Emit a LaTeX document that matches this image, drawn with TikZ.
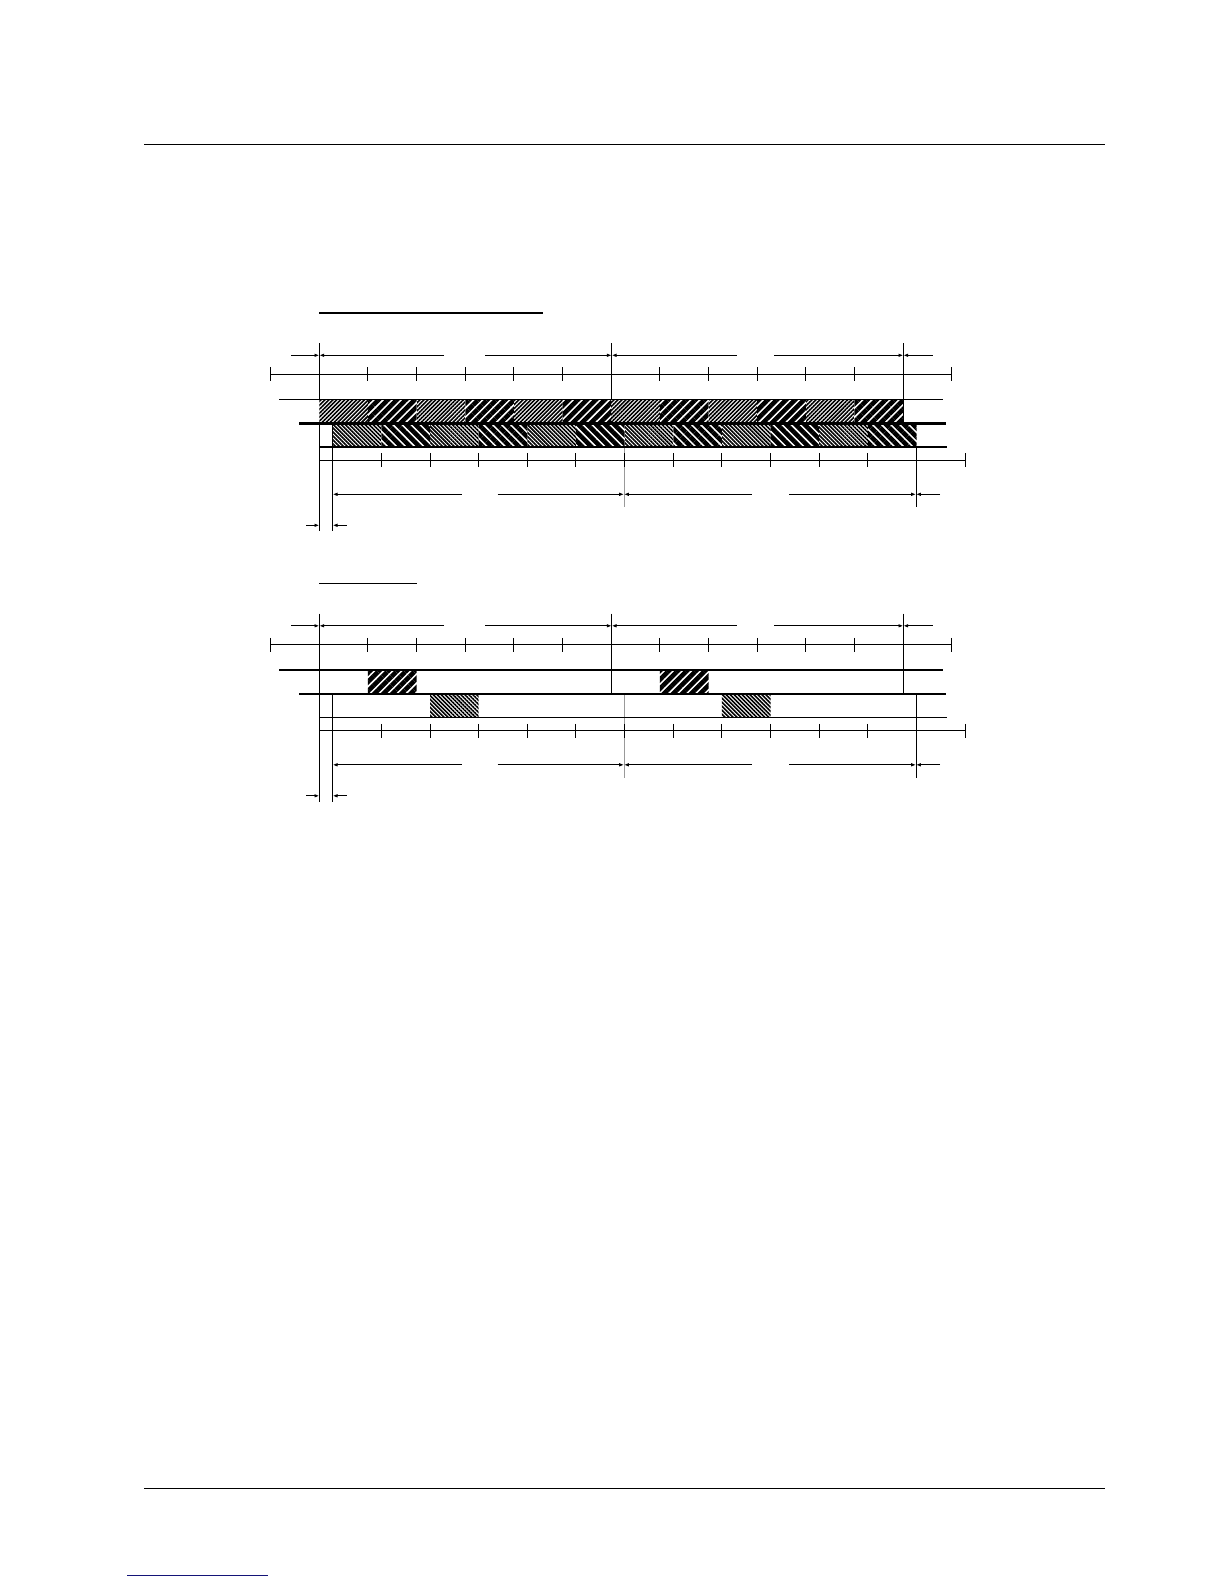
\documentclass[tikz,border=0pt]{standalone}
\usetikzlibrary{arrows.meta, patterns.meta}

\tikzset{
  pagerule/.style = {line width=0.5pt},
  linkrule/.style = {line width=0.5pt, draw=linkblue},
  framerule/.style = {line width=0.5pt},
  heavyrule/.style = {line width=1.3pt},
  guiderule/.style = {line width=0.5pt, draw=black!40},
  dimarrow/.style = {line width=0.5pt, -{Latex[length=2.4pt, width=1.8pt]}},
  finehatchA/.style = {preaction={fill=white}, pattern={Lines[angle=45, distance=1.4pt, line width=0.8pt]}},
  boldhatchA/.style = {preaction={fill=white}, pattern={Lines[angle=45, distance=3.2pt, line width=2.3pt]}},
  finehatchB/.style = {preaction={fill=white}, pattern={Lines[angle=-45, distance=1.4pt, line width=0.8pt]}},
  boldhatchB/.style = {preaction={fill=white}, pattern={Lines[angle=-45, distance=3.2pt, line width=2.3pt]}}
}
\definecolor{linkblue}{RGB}{20,20,120}

% common frame of one timing chart
\newcommand{\slotframe}{%
  \coordinate (ua) at (319.3,355.3);
  \coordinate (ub) at (611.7,355.3);
  \coordinate (uc) at (903.3,355.3);
  \coordinate (la) at (332.7,494.3);
  \coordinate (lb) at (624,494.3);
  \coordinate (lc) at (916,494.3);
  \coordinate (sa) at (319.3,525.3);
  \coordinate (sb) at (332.7,525.3);
  % verticals
  \draw [framerule] (319.3,343) -- (319.3,531);
  \draw [framerule] (332.7,423.3) -- (332.7,531);
  \draw [framerule] (611.7,343) -- (611.7,423.3);
  \draw [framerule] (903.3,343) -- (903.3,423.3);
  \draw [guiderule] (624,423.3) -- (624,507);
  \draw [framerule] (916,423.3) -- (916,507);
  % dimension arrows
  \draw [dimarrow] (291,355.3) -- (ua);
  \draw [dimarrow] (444,355.3) -- (ua);
  \draw [dimarrow] (485,355.3) -- (ub);
  \draw [dimarrow] (736.7,355.3) -- (ub);
  \draw [dimarrow] (774,355.3) -- (uc);
  \draw [dimarrow] (932.7,355.3) -- (uc);
  \draw [dimarrow] (461.7,494.3) -- (la);
  \draw [dimarrow] (497.7,494.3) -- (lb);
  \draw [dimarrow] (751.7,494.3) -- (lb);
  \draw [dimarrow] (789,494.3) -- (lc);
  \draw [dimarrow] (940,494.3) -- (lc);
  \draw [dimarrow] (306,525.3) -- (sa);
  \draw [dimarrow] (346.7,525.3) -- (sb);
  % time axes
  \draw [framerule] (270.7,374.3) -- ({319.3+13*48.65},374.3);
  \foreach \k in {-1,...,13}
    \draw [framerule] ({319.3+\k*48.65},367.3) -- ++(0,14);
  \draw [framerule] (319.3,460.3) -- ({332.7+13*48.65},460.3);
  \foreach \k in {1,...,13}
    \draw [framerule] ({332.7+\k*48.65},453.3) -- ++(0,14);
}

\begin{document}
\begin{tikzpicture}[x=0.5pt, y=-0.5pt]
  \useasboundingbox [fill=white] (0,0) rectangle (1224,1584);

  % page rules
  \coordinate (hdrL) at (144,144.3);
  \coordinate (hdrR) at (1105,144.3);
  \coordinate (ftrL) at (144,1488.3);
  \coordinate (ftrR) at (1105,1488.3);
  \coordinate (linkL) at (127,1575);
  \coordinate (linkR) at (268,1575);
  \draw [pagerule] (hdrL) -- (hdrR);
  \draw [pagerule] (ftrL) -- (ftrR);
  \draw [linkrule] (linkL) -- (linkR);

  % titles
  \coordinate (titleA) at (319.3,312.7);
  \coordinate (titleB) at (319.3,583.3);
  \draw [line width=0.8pt] (titleA) -- ++(223.4,0);
  \draw [line width=0.6pt] (titleB) -- ++(97.4,0);

  % chart 1: all slots busy
  \slotframe
  \foreach \k in {0,2,...,10}
    \draw [draw=none, finehatchA] ({319.3+\k*48.65},399.3) rectangle ++(48.65,24);
  \foreach \k in {1,3,...,11}
    \draw [draw=none, boldhatchA] ({319.3+\k*48.65},399.3) rectangle ++(48.65,24);
  \foreach \k in {0,2,...,10}
    \draw [draw=none, finehatchB] ({332.7+\k*48.65},423.3) rectangle ++(48.65,24);
  \foreach \k in {1,3,...,11}
    \draw [draw=none, boldhatchB] ({332.7+\k*48.65},423.3) rectangle ++(48.65,24);
  \draw [framerule] (279,399.3) -- (943.3,399.3);
  \draw [heavyrule] (299.3,423.3) -- (945.7,423.3);
  \draw [line width=1pt] (319.3,447.3) -- (946.7,447.3);

  % chart 2: one slot per frame
  \begin{scope}[shift={(0,270.5)}]
    \slotframe
    \foreach \k in {1,7}
      \draw [draw=none, boldhatchA] ({319.3+\k*48.65},399.3) rectangle ++(48.65,24);
    \foreach \k in {2,8}
      \draw [draw=none, finehatchB] ({332.7+\k*48.65},423.3) rectangle ++(48.65,24);
    \draw [line width=1pt] (279,399.3) -- (943.3,399.3);
    \draw [heavyrule] (299.3,423.3) -- (945.7,423.3);
    \draw [framerule] (319.3,447.3) -- (946.7,447.3);
  \end{scope}
\end{tikzpicture}
\end{document}
